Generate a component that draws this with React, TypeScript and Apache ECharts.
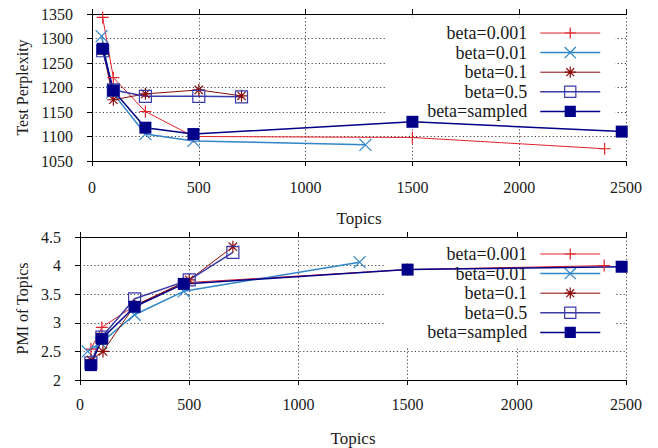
import React, { useEffect, useRef } from 'react';
import * as echarts from 'echarts';

const seriesNames = ['beta=0.001', 'beta=0.01', 'beta=0.1', 'beta=0.5', 'beta=sampled'];

// Top panel: Test Perplexity vs Topics
const perp001 = [[50, 1343], [100, 1220], [250, 1151], [475, 1100], [1500, 1098], [2400, 1075]];
const perp01 = [[45, 1305], [95, 1190], [250, 1105], [475, 1091], [1280, 1083]];
const perp1 = [[50, 1280], [100, 1175], [250, 1187], [500, 1195], [700, 1183]];
const perp5 = [[50, 1275], [100, 1195], [250, 1182], [500, 1182], [700, 1181]];
const perpSampled = [[50, 1279], [100, 1194], [250, 1118], [475, 1105], [1500, 1130], [2480, 1110]];

// Bottom panel: PMI of Topics vs Topics
const pmi001 = [[50, 2.54], [100, 2.92], [250, 3.3], [475, 3.7], [1500, 3.93], [2400, 4.0]];
const pmi01 = [[35, 2.5], [95, 2.65], [250, 3.14], [475, 3.55], [1280, 4.06]];
const pmi1 = [[50, 2.35], [105, 2.5], [250, 3.3], [500, 3.75], [700, 4.33]];
const pmi5 = [[50, 2.3], [100, 2.75], [250, 3.42], [500, 3.75], [700, 4.23]];
const pmiSampled = [[50, 2.26], [100, 2.72], [250, 3.28], [475, 3.68], [1500, 3.93], [2480, 3.98]];

const xTicks = { min: 0, max: 2500, interval: 500 };
const perpTicks = { min: 1050, max: 1350, interval: 50 };
const pmiTicks = { min: 2, max: 4.5, interval: 0.5 };

const FONT = "'Liberation Serif', 'Times New Roman', serif";
const colors = ['#e3222b', '#2f86c8', '#8b0a0a', '#3a3aa8', '#000088'];
const lineWidths = [1, 1.5, 1, 1.5, 1.5];
const symbols = [
  'path://M5,0L5,10M0,5L10,5',
  'path://M0,0L10,10M10,0L0,10',
  'path://M5,0L5,10M0,5L10,5M1.5,1.5L8.5,8.5M8.5,1.5L1.5,8.5',
  'path://M0,0L10,0L10,10L0,10Z',
  'rect',
];
const plain = (v: number) => String(v);

function makeSeries(datasets: number[][][], gridIdx: number) {
  return datasets.map((d, i) => {
    const c = colors[i];
    const filled = i === 4;
    return {
      type: 'line',
      name: seriesNames[i],
      xAxisIndex: gridIdx * 2,
      yAxisIndex: gridIdx * 2,
      data: d,
      symbol: symbols[i],
      symbolSize: 12,
      showSymbol: true,
      lineStyle: { color: c, width: lineWidths[i] },
      itemStyle: filled
        ? { color: c, borderWidth: 0 }
        : { color: i === 3 ? 'rgba(0,0,0,0)' : c, borderColor: c, borderWidth: 1.2 },
      emphasis: { disabled: true },
      clip: false,
    };
  });
}

function xAxes(gridIndex: number, labelMargin: number, nameGap: number) {
  return [
    {
      type: 'value',
      gridIndex,
      ...xTicks,
      position: 'bottom',
      name: 'Topics',
      nameLocation: 'middle',
      nameGap,
      nameTextStyle: { fontFamily: FONT, fontSize: 17, color: '#1a1a1a' },
      axisLine: { show: true, lineStyle: { color: '#000', width: 1 } },
      axisTick: { show: true, inside: false, length: 5, lineStyle: { color: '#000' } },
      axisLabel: { fontFamily: FONT, fontSize: 16, color: '#1a1a1a', margin: labelMargin, formatter: plain },
      splitLine: { show: true, lineStyle: { color: '#444', type: [1.2, 2.4], width: 1 } },
    },
    {
      type: 'value',
      gridIndex,
      ...xTicks,
      position: 'top',
      axisLine: { show: true, lineStyle: { color: '#000', width: 1 } },
      axisTick: { show: true, inside: false, length: 5, lineStyle: { color: '#000' } },
      axisLabel: { show: false },
      splitLine: { show: false },
    },
  ];
}

function yAxes(gridIndex: number, ticks: any, name: string, nameGap: number) {
  return [
    {
      type: 'value',
      gridIndex,
      ...ticks,
      position: 'left',
      name,
      nameLocation: 'middle',
      nameRotate: 90,
      nameGap,
      nameTextStyle: { fontFamily: FONT, fontSize: 16, color: '#1a1a1a' },
      axisLine: { show: true, lineStyle: { color: '#000', width: 1 } },
      axisTick: { show: true, inside: false, length: 5, lineStyle: { color: '#000' } },
      axisLabel: { fontFamily: FONT, fontSize: 16, color: '#1a1a1a', margin: 19, formatter: plain },
      splitLine: { show: true, lineStyle: { color: '#444', type: [1.2, 2.4], width: 1 } },
    },
    {
      type: 'value',
      gridIndex,
      ...ticks,
      position: 'right',
      axisLine: { show: true, lineStyle: { color: '#000', width: 1 } },
      axisTick: { show: false },
      axisLabel: { show: false },
      splitLine: { show: false },
    },
  ];
}

function legendAt(top: number) {
  return {
    orient: 'vertical',
    right: 43,
    top,
    align: 'right',
    itemWidth: 60,
    itemHeight: 14,
    itemGap: 1.6,
    padding: [6, 14, 5, 42],
    backgroundColor: '#fff',
    z: 1,
    textStyle: { fontFamily: FONT, fontSize: 18, color: '#1a1a1a', padding: [0, 8, 0, 0] },
    data: seriesNames.map((n, i) => ({
      name: n,
      itemStyle: { borderWidth: i === 4 ? 0 : 1.2 },
      lineStyle: { width: lineWidths[i] },
    })),
  };
}

export default function App() {
  const ref = useRef<HTMLDivElement>(null);
  useEffect(() => {
    if (!ref.current) return;
    const chart = echarts.init(ref.current, undefined, { renderer: 'svg' });
    chart.setOption({
      animation: false,
      backgroundColor: '#fff',
      textStyle: { fontFamily: FONT },
      grid: [
        { left: 92, top: 14, right: 32, height: 147 },
        { left: 80, top: 237, right: 32, height: 148 },
      ],
      xAxis: [...xAxes(0, 18, 49), ...xAxes(1, 16, 50)],
      yAxis: [
        ...yAxes(0, perpTicks, 'Test Perplexity', 62),
        ...yAxes(1, pmiTicks, 'PMI of Topics', 50),
      ],
      legend: [legendAt(18), legendAt(239)],
      series: [
        ...makeSeries([perp001, perp01, perp1, perp5, perpSampled], 0),
        ...makeSeries([pmi001, pmi01, pmi1, pmi5, pmiSampled], 1),
      ],
    });
    return () => chart.dispose();
  }, []);
  return (
    <div
      ref={ref}
      style={{ position: 'fixed', left: 0, top: 0, width: 658, height: 448, background: '#fff' }}
    />
  );
}
